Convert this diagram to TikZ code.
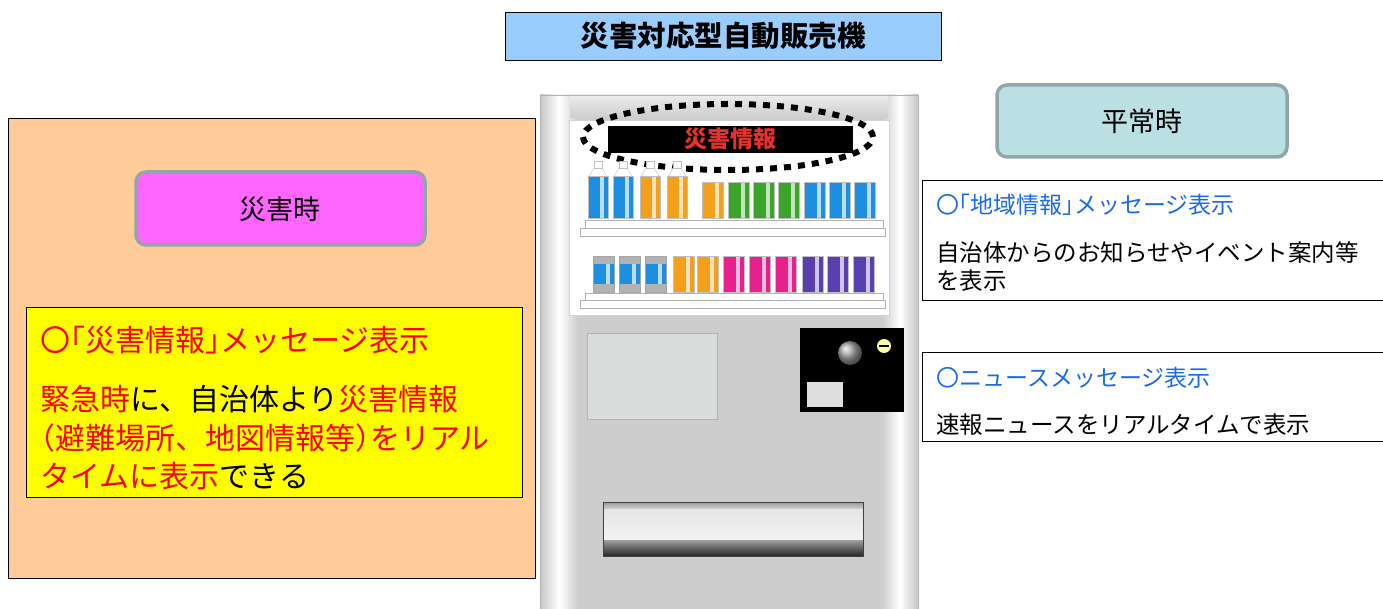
\documentclass[tikz,border=0pt]{standalone}
\usepackage{fontspec}
\setmainfont{Noto Sans CJK JP}
\usepackage{tikz}
\usetikzlibrary{positioning}

\definecolor{ttlblue}{HTML}{99CCFF}
\definecolor{saibg}{HTML}{FFCC99}
\definecolor{saipink}{HTML}{FF66FF}
\definecolor{saiyellow}{HTML}{FFFF00}
\definecolor{heiteal}{HTML}{BBE0E3}
\definecolor{rndedge}{HTML}{8FA7A8}
\definecolor{msgblue}{HTML}{1A6BE8}
\definecolor{dispred}{HTML}{E8302C}
\definecolor{vmbody}{HTML}{CDCDCD}
\definecolor{vmblue}{HTML}{1E8FE0}
\definecolor{vmorange}{HTML}{F5A01A}
\definecolor{vmgreen}{HTML}{3BA52A}
\definecolor{vmmag}{HTML}{E6208C}
\definecolor{vmpurple}{HTML}{5A3FB0}
\definecolor{vmpanel}{HTML}{D8DCDB}
\newcommand\halfw[1]{{\addfontfeature{RawFeature=+halt}#1}}

\begin{document}
\begin{tikzpicture}[x=1pt,y=-1pt,
  sqbox/.style={draw=black, line width=0.8pt},
  rndbox/.style={draw=rndedge, line width=3.5pt, rounded corners=10pt},
  msgline/.style={anchor=base west, inner sep=0pt}]
\useasboundingbox (0,0) rectangle (1383,609);

% title
\node (ttl) [sqbox, fill=ttlblue, minimum width=436pt, minimum height=48pt] at (723,36) {}; \node at (ttl.center) {\fontsize{28.5}{30}\selectfont\bfseries 災害対応型自動販売機};

% left side
\draw[sqbox, fill=saibg] (8,118) rectangle (535,578);
\draw[rndbox, fill=saipink] (136,172) rectangle (425,245); \node (sai) at (280,209) {\fontsize{27}{30}\selectfont 災害時};
\draw[sqbox, fill=saiyellow] (26,307) rectangle (522,497);
\node (y1) [msgline, text=red] at (40,351) {\fontsize{30}{32}\selectfont 〇\halfw{「}災害情報\halfw{」}メッセージ表示};
\node (y2) [msgline] at (40,410) {\fontsize{30}{32}\selectfont \textcolor{red}{緊急時}に、自治体より\textcolor{red}{災害情報}};
\node (y3) [msgline, text=red] at (40,449) {\fontsize{30}{32}\selectfont \halfw{（}避難場所、地図情報等\halfw{）}をリアル};
\node (y4) [msgline] at (40,487) {\fontsize{30}{32}\selectfont \textcolor{red}{タイムに表示}できる};

% vending machine
\fill[vmbody] (540,95) rectangle (918,609);
\shade[left color=gray!45, right color=vmbody, middle color=white] (540,95) rectangle (578,609);
\shade[left color=vmbody, right color=gray!45, middle color=white] (882,95) rectangle (918,609);
\shade[top color=gray!15, bottom color=vmbody] (570,95) rectangle (888,118);
\draw[gray!60] (540,609) -- (540,95) -- (918,95) -- (918,609);
\filldraw[fill=white, draw=gray!35] (569,120) rectangle (889,315);
\fill[black] (608,126) rectangle (853,153); \node (disp) [text=dispred] at (730,139) {\fontsize{23}{25}\selectfont\bfseries 災害情報};
\draw[line width=6pt, dash pattern=on 7pt off 7pt] (728,137) ellipse [x radius=145pt, y radius=33pt];

% upper shelf
\foreach \x/\c in {588/vmblue,613/vmblue,640/vmorange,667/vmorange}{
  \filldraw[fill=white, draw=gray!50] (\x,178) -- (\x+6,168) -- (\x+14,168) -- (\x+20,178) -- cycle;
  \filldraw[fill=white, draw=gray!50] (\x+6,161) rectangle (\x+14,168);
  \fill[\c] (\x,176) rectangle (\x+20,218); \fill[white!70!\c] (\x+12,176) rectangle (\x+16,218);
  \draw[gray!50] (\x,176) rectangle (\x+20,218);
}
\foreach \x/\c in {702/vmorange,728/vmgreen,753/vmgreen,778/vmgreen,804/vmblue,829/vmblue,854/vmblue}{
  \fill[\c] (\x,182) rectangle (\x+21,218); \fill[white!70!\c] (\x+13,182) rectangle (\x+17,218);
  \draw[gray!50] (\x,182) rectangle (\x+21,218);
}
\filldraw[fill=white, draw=gray!60] (585,220) rectangle (883,228);
\filldraw[fill=white, draw=gray!60] (580,228) rectangle (885,236);

% lower shelf
\foreach \x/\c in {593/vmblue,619/vmblue,645/vmblue,673/vmorange,697/vmorange,723/vmmag,749/vmmag,775/vmmag,802/vmpurple,827/vmpurple,853/vmpurple}{
  \fill[\c] (\x,256) rectangle (\x+21,292); \fill[white!70!\c] (\x+13,256) rectangle (\x+17,292);
  \draw[gray!50] (\x,256) rectangle (\x+21,292);
}
\foreach \x in {593,619,645}{
  \fill[gray!60] (\x,256) rectangle (\x+21,264); \fill[gray!60] (\x,284) rectangle (\x+21,292);
  \draw[gray!70] (\x,256) rectangle (\x+21,292);
}
\filldraw[fill=white, draw=gray!60] (585,293) rectangle (883,300);
\filldraw[fill=white, draw=gray!60] (580,300) rectangle (885,308);

% front panels
\filldraw[fill=vmpanel, draw=gray!60] (587,333) rectangle (717,419);
\fill[black] (800,328) rectangle (904,412);
\shade[ball color=gray!70] (850,353) circle (12pt);
\fill[yellow!35!white] (884,346) circle (7pt); \draw[line width=2.5pt] (879,346) -- (889,346);
\fill[gray!25] (807,382) rectangle (843,407);
\shade[top color=gray!80, bottom color=gray!35] (603,502) rectangle (863,509);
\shade[top color=gray!20, middle color=white, bottom color=gray!10] (603,509) rectangle (863,540);
\shade[top color=gray!75, bottom color=black!85] (603,540) rectangle (863,556);
\draw[gray!50!black] (603,502) rectangle (863,556);

% right side
\draw[rndbox, fill=heiteal] (997,85) rectangle (1287,157); \node (hei) at (1142,121) {\fontsize{27}{30}\selectfont 平常時};
\draw[sqbox] (922,180) rectangle (1390,300);
\node (r1a) [msgline, text=msgblue] at (936,214) {\fontsize{23}{25}\selectfont 〇\halfw{「}地域情報\halfw{」}メッセージ表示};
\node (r1b) [msgline] at (936,262) {\fontsize{23.5}{25}\selectfont 自治体からのお知らせやイベント案内等};
\node (r1c) [msgline] at (936,290) {\fontsize{23.5}{25}\selectfont を表示};
\draw[sqbox] (922,352) rectangle (1390,441);
\node (r2a) [msgline, text=msgblue] at (936,386) {\fontsize{23}{25}\selectfont 〇ニュースメッセージ表示};
\node (r2b) [msgline] at (936,433) {\fontsize{23.5}{25}\selectfont 速報ニュースをリアルタイムで表示};
\end{tikzpicture}
\end{document}
